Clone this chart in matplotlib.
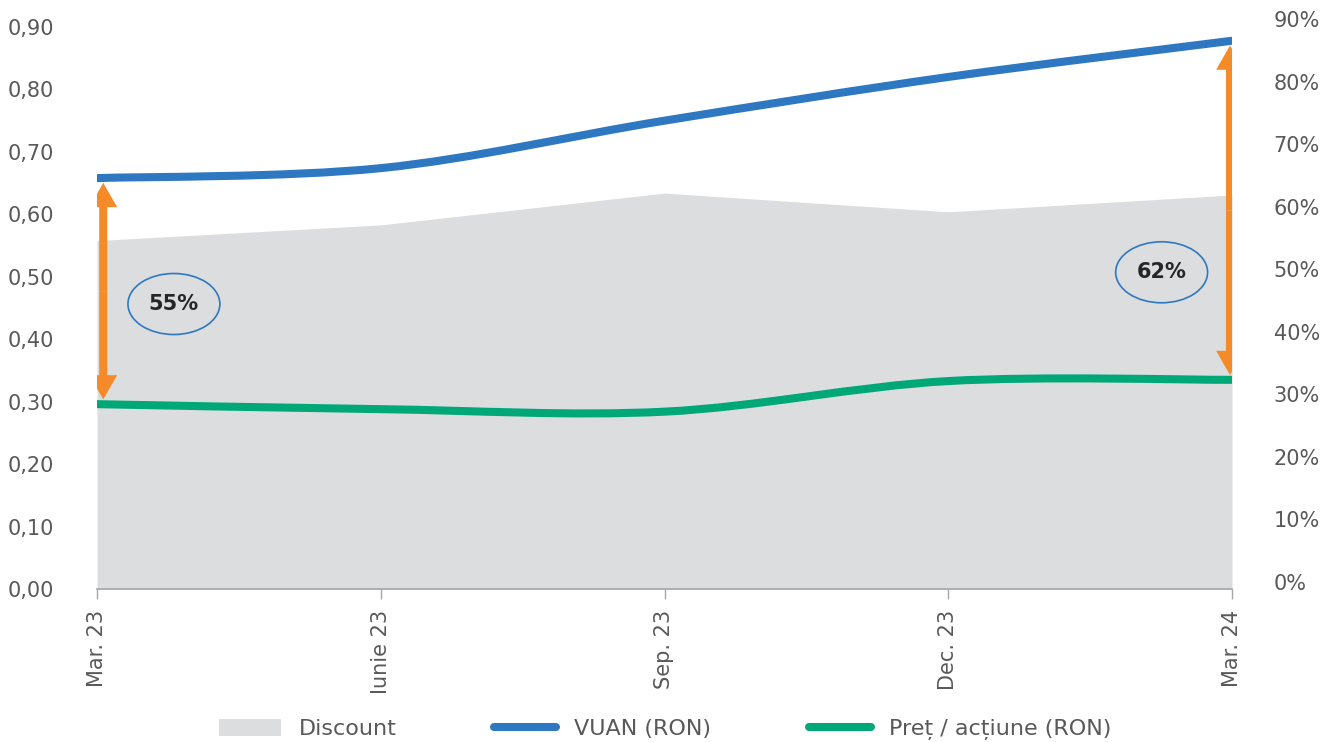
import matplotlib
matplotlib.use("Agg")
import matplotlib.pyplot as plt
import numpy as np
from matplotlib.path import Path
from matplotlib.patches import PathPatch, Ellipse, FancyArrowPatch, Patch
from matplotlib.lines import Line2D
from matplotlib.ticker import FixedLocator, FuncFormatter

plt.rcParams['font.family'] = ['DejaVu Sans']

# ---- data ----
categories = ["Mar. 23", "Iunie 23", "Sep. 23", "Dec. 23", "Mar. 24"]
discount = [0.546, 0.571, 0.622, 0.592, 0.619]          # right axis (fraction)
vuan = [0.658, 0.674, 0.750, 0.820, 0.878]               # left axis (RON)
price = [0.296, 0.288, 0.284, 0.333, 0.335]              # left axis (RON)
left_ticks = [0.0, 0.1, 0.2, 0.3, 0.4, 0.5, 0.6, 0.7, 0.8, 0.9]
right_ticks = [0.0, 0.1, 0.2, 0.3, 0.4, 0.5, 0.6, 0.7, 0.8, 0.9]
ann_labels = ["55%", "62%"]

C_BLUE = "#2E78C1"
C_GREEN = "#00A878"
C_AREA = "#DCDDDF"
C_ORANGE = "#F58B28"
C_TXT = "#595959"

W, H = 1323, 742
fig = plt.figure(figsize=(W / 100, H / 100), dpi=100)
L, R = 97, 1232
ax = fig.add_axes([L / W, 153 / H, (R - L) / W, 562 / H])
# right axis: 0% sits ~7 px above the left-axis zero, same scale
ax2 = fig.add_axes([L / W, 153 / H, (R - L) / W, 572 / H])
ax2.set_zorder(0)
ax.set_zorder(1)
ax.patch.set_visible(False)
ax2.patch.set_visible(False)

x = np.arange(len(categories))
ax.set_xlim(0, len(categories) - 1)
ax2.set_xlim(0, len(categories) - 1)
ax.set_ylim(0, 0.9)
ax2.set_ylim(-0.012, 0.904)

# discount area on right axis (down to the axis line)
ax2.fill_between(x, ax2.get_ylim()[0], discount, color=C_AREA, lw=0)


def smooth_path(xs, ys):
    pts = np.column_stack([xs, ys]).astype(float)
    n = len(pts)
    verts = [pts[0]]
    codes = [Path.MOVETO]
    for i in range(n - 1):
        p0 = pts[i - 1] if i > 0 else pts[i]
        p1 = pts[i]
        p2 = pts[i + 1]
        p3 = pts[i + 2] if i + 2 < n else pts[i + 1]
        c1 = p1 + (p2 - p0) / 6.0
        c2 = p2 - (p3 - p1) / 6.0
        verts += [c1, c2, p2]
        codes += [Path.CURVE4] * 3
    return Path(verts, codes)


for ys, col in [(vuan, C_BLUE), (price, C_GREEN)]:
    pp = PathPatch(smooth_path(x, ys), facecolor="none", edgecolor=col,
                   lw=5.8, capstyle="round", joinstyle="round", zorder=3)
    ax.add_patch(pp)

# double arrows
arrow_x = [0.022, 3.993]
arrow_idx = [0, len(categories) - 1]
for ax_x, idx in zip(arrow_x, arrow_idx):
    mid = (vuan[idx] + price[idx]) / 2
    for end in (vuan[idx], price[idx]):
        arr = FancyArrowPatch((ax_x, mid), (ax_x, end),
                              arrowstyle="simple,head_length=1.75,head_width=2.0,tail_width=0.58",
                              mutation_scale=10, color=C_ORANGE, lw=0,
                              shrinkA=0, shrinkB=3.4, zorder=4)
        ax.add_patch(arr)

# ellipses with labels
ell_pos = [(0.271, 0.4564), (3.752, 0.5072)]
for (ex, ey), lab in zip(ell_pos, ann_labels):
    e = Ellipse((ex, ey), 0.324, 0.0977, facecolor="none", edgecolor=C_BLUE, lw=1.2, zorder=4)
    ax.add_patch(e)
    ax.text(ex, ey, lab, ha="center", va="center", fontsize=15, fontweight="bold",
            color="#262626", zorder=5)

# axes styling
for a in (ax, ax2):
    for s in ("top", "left", "right"):
        a.spines[s].set_visible(False)
ax2.spines["bottom"].set_visible(False)
ax2.xaxis.set_visible(False)
ax.spines["bottom"].set_color("#A6A6A6")
ax.spines["bottom"].set_linewidth(1.2)

ax.xaxis.set_major_locator(FixedLocator(x))
ax.set_xticklabels(categories, rotation=90, fontsize=15, color=C_TXT)
ax.tick_params(axis="x", length=7, width=1, color="#A6A6A6", pad=8)
for t in ax.get_xticklabels():
    t.set_ha("center")
    t.set_va("top")

ax.yaxis.set_major_locator(FixedLocator(left_ticks))
ax.yaxis.set_major_formatter(FuncFormatter(lambda v, p: f"{v:.2f}".replace(".", ",")))
ax.tick_params(axis="y", length=0, pad=31, labelsize=15, labelcolor=C_TXT)

ax2.yaxis.tick_right()
ax2.yaxis.set_major_locator(FixedLocator(right_ticks))
ax2.yaxis.set_major_formatter(FuncFormatter(lambda v, p: f"{v*100:.0f}%"))
ax2.tick_params(axis="y", length=0, pad=30, labelsize=15, labelcolor=C_TXT)

handles = [Patch(facecolor=C_AREA, edgecolor="none"),
           Line2D([0], [0], color=C_BLUE, lw=5.8, solid_capstyle="round"),
           Line2D([0], [0], color=C_GREEN, lw=5.8, solid_capstyle="round")]
labels = ["Discount", "VUAN (RON)", "Preț / acțiune (RON)"]
leg = fig.legend(handles, labels, loc="center", bbox_to_anchor=(0.5026, 0.017), ncol=3,
                 frameon=False, fontsize=16, handlelength=2.8, handleheight=0.8,
                 handletextpad=0.8, columnspacing=4.4, labelcolor=C_TXT)

fig.savefig("out.png", dpi=100)
